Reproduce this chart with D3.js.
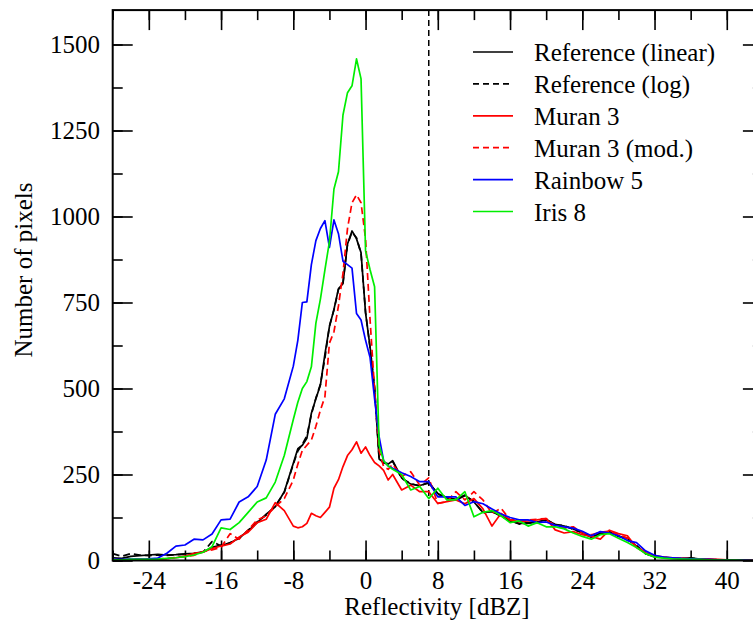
<!DOCTYPE html>
<html>
<head>
<meta charset="utf-8">
<script src="https://cdn.jsdelivr.net/npm/d3@7"></script>
<style>
  body { margin: 0; background: #fff; }
  svg { display: block; }
</style>
</head>
<body>
<div id="chart"></div>
<script>
// reflectivity bins (dBZ)
const dbz = [-28,-27,-26,-25,-24,-23,-22,-21,-20,-19,-18,-17,-16,-15,-14,-13,-12,-11,-10,-9,-8,
  -7.5,-7,-6.5,-6,-5.5,-5,-4.5,-4,-3.5,-3,-2.5,-2,-1.5,-1,-0.5,0,0.5,1,1.5,2,2.5,3,
  4,5,6,7,8,9,10,11,12,13,14,15,16,17,18,19,20,21,22,23,24,25,26,27,28,29,30,31,32,33,34,35,36,37,38,39,40,41,42,43,44];

const refLinear = [8,6,12,14,16,18,16,17,19,21,25,38,45,50,66,86,110,135,156,200,283,
  325,335,355,428,470,510,600,680,730,790,805,920,958,935,895,720,620,500,295,285,280,290,
  240,222,218,225,195,182,178,190,170,140,142,130,115,108,108,112,118,105,100,92,80,68,78,84,70,65,42,20,10,9,7,6,8,4,3,2,2,1,1,1,0];
const refLog = [20,12,20,16,14,16,15,17,18,20,24,55,42,52,64,88,112,132,158,198,280,
  318,338,362,425,472,512,588,682,728,788,808,918,955,938,892,722,618,502,298,283,282,288,
  238,224,216,228,192,185,176,188,172,138,144,128,117,106,110,110,120,103,102,90,82,68,80,80,72,60,44,20,13,8,7,5,7,4,3,2,2,1,1,1,0];
const muran3 = [2,2,2,3,3,4,5,8,12,21,24,35,42,48,68,82,110,120,168,145,100,
  95,98,108,137,130,125,140,155,210,235,273,305,322,345,312,330,305,285,275,262,234,250,
  205,219,200,200,166,171,176,165,180,150,100,137,118,113,115,118,122,89,80,84,75,70,62,88,78,72,38,22,14,10,8,6,5,4,4,3,2,2,2,1,1];
const muran3Mod = [2,2,3,3,4,5,6,9,12,15,26,31,38,78,62,89,118,130,156,180,234,
  280,320,335,350,390,437,476,632,665,740,835,965,1040,1063,1040,935,700,496,320,273,265,280,
  245,258,219,240,166,171,200,176,200,176,137,152,118,118,118,120,122,100,94,98,80,75,82,85,75,65,40,24,13,9,7,6,5,4,3,2,2,1,1,1,1];
const rainbow5 = [3,3,4,4,5,7,21,42,45,62,60,77,118,120,170,185,215,292,425,470,565,
  640,750,752,860,930,965,988,910,990,950,870,860,850,718,699,640,590,470,360,290,275,268,
  255,244,229,229,185,185,185,160,171,165,150,135,125,118,118,110,112,102,98,94,85,72,84,80,72,58,52,28,15,10,8,6,5,4,3,2,1,1,1,0,0];
const iris8 = [2,2,3,3,3,4,6,8,11,16,24,40,95,90,110,140,170,182,228,305,410,
  460,500,520,563,690,760,845,927,1080,1130,1295,1360,1380,1458,1400,900,845,796,335,290,275,265,
  250,205,215,180,210,176,176,200,127,140,145,130,110,115,100,110,98,98,92,80,70,62,75,78,65,52,38,20,10,7,5,4,3,3,2,1,1,1,0,0,0];

const seriesNames = ["Reference (linear)", "Reference (log)", "Muran 3", "Muran 3 (mod.)", "Rainbow 5", "Iris 8"];
const seriesColors = ["#000000", "#000000", "#ff0000", "#ff0000", "#0000ff", "#00ee00"];
const seriesDashed = [false, true, false, true, false, false];

const xTicks = [-24, -16, -8, 0, 8, 16, 24, 32, 40];
const yTicks = [0, 250, 500, 750, 1000, 1250, 1500];
const markerDbz = 7;

const series = [refLinear, refLog, muran3, muran3Mod, rainbow5, iris8].map((vals, i) => ({
  name: seriesNames[i],
  color: seriesColors[i],
  dashed: seriesDashed[i],
  points: dbz.map((d, j) => [d, vals[j]])
}));

const FONT = "'Liberation Serif', 'Times New Roman', Times, Tinos, 'DejaVu Serif', 'Noto Serif', serif";
const W = 753, H = 626;
const box = {left: 112.7, right: 762.9, top: 10.1, bottom: 560.5};

const svg = d3.select("#chart").append("svg")
  .attr("width", W).attr("height", H)
  .attr("font-family", FONT);

const x = d3.scaleLinear().domain([-28, 44]).range([box.left, box.right]);
const y = d3.scaleLinear().domain([0, 1600]).range([box.bottom, box.top]);

const minorX = d3.range(-28, 45, 4);
const minorY = d3.range(0, 1601, 125);

// ticks on all four sides, pointing inward
function styleAxis(g) {
  g.attr("font-family", FONT).attr("font-size", 25);
  g.select(".domain").remove();
  g.selectAll("line").attr("stroke", "#000").attr("stroke-width", 1.6);
  g.selectAll("text").attr("fill", "#000");
}

svg.append("g").attr("transform", `translate(0,${box.bottom})`)
  .call(d3.axisBottom(x).tickValues(minorX).tickSize(-10).tickFormat(""))
  .call(styleAxis);
svg.append("g").attr("transform", `translate(0,${box.bottom})`)
  .call(d3.axisBottom(x).tickValues(xTicks).tickSize(-20).tickPadding(11).tickFormat(d => String(d)))
  .call(styleAxis);
svg.append("g").attr("transform", `translate(0,${box.top})`)
  .call(d3.axisTop(x).tickValues(minorX).tickSize(-10).tickFormat(""))
  .call(styleAxis);
svg.append("g").attr("transform", `translate(0,${box.top})`)
  .call(d3.axisTop(x).tickValues(xTicks).tickSize(-20).tickFormat(""))
  .call(styleAxis);

svg.append("g").attr("transform", `translate(${box.left},0)`)
  .call(d3.axisLeft(y).tickValues(minorY).tickSize(-10).tickFormat(""))
  .call(styleAxis);
svg.append("g").attr("transform", `translate(${box.left},0)`)
  .call(d3.axisLeft(y).tickValues(yTicks).tickSize(-20).tickPadding(12.7).tickFormat(d => String(d)))
  .call(styleAxis);
svg.append("g").attr("transform", `translate(${box.right},0)`)
  .call(d3.axisRight(y).tickValues(minorY).tickSize(-10).tickFormat(""))
  .call(styleAxis);
svg.append("g").attr("transform", `translate(${box.right},0)`)
  .call(d3.axisRight(y).tickValues(yTicks).tickSize(-20).tickFormat(""))
  .call(styleAxis);

// clip for the data
svg.append("defs").append("clipPath").attr("id", "plot-clip")
  .append("rect").attr("x", box.left).attr("y", box.top)
  .attr("width", box.right - box.left).attr("height", box.bottom - box.top);

const line = d3.line().x(d => x(d[0])).y(d => y(d[1]));

const plot = svg.append("g").attr("clip-path", "url(#plot-clip)");

// vertical dashed marker
plot.append("line")
  .attr("x1", x(markerDbz)).attr("x2", x(markerDbz))
  .attr("y1", y(1600)).attr("y2", y(0))
  .attr("stroke", "#000").attr("stroke-width", 1.5)
  .attr("stroke-dasharray", "6,4");

plot.selectAll("path.series")
  .data(series)
  .enter()
  .append("path")
  .attr("class", "series")
  .attr("d", d => line(d.points))
  .attr("fill", "none")
  .attr("stroke", d => d.color)
  .attr("stroke-width", 1.7)
  .attr("stroke-linejoin", "round")
  .attr("stroke-dasharray", d => d.dashed ? "7,4" : null);

// frame
svg.append("rect")
  .attr("x", box.left).attr("y", box.top)
  .attr("width", box.right - box.left).attr("height", box.bottom - box.top)
  .attr("fill", "none").attr("stroke", "#000").attr("stroke-width", 2);

// legend
const legend = svg.append("g").attr("transform", "translate(473,52)");
const rows = legend.selectAll("g.row")
  .data(series)
  .enter()
  .append("g")
  .attr("class", "row")
  .attr("transform", (d, i) => `translate(0,${i * 31.9})`);
rows.append("line")
  .attr("x1", 0).attr("x2", 40).attr("y1", 0).attr("y2", 0)
  .attr("stroke", d => d.color).attr("stroke-width", 1.7)
  .attr("stroke-dasharray", d => d.dashed ? "6,4" : null);
rows.append("text")
  .attr("x", 61).attr("y", 9)
  .attr("font-size", 25)
  .text(d => d.name);

// axis titles
svg.append("text")
  .attr("x", 437).attr("y", 615)
  .attr("text-anchor", "middle")
  .attr("font-size", 25)
  .text("Reflectivity [dBZ]");

svg.append("text")
  .attr("transform", "translate(32,270) rotate(-90)")
  .attr("text-anchor", "middle")
  .attr("font-size", 25)
  .text("Number of pixels");
</script>
</body>
</html>
